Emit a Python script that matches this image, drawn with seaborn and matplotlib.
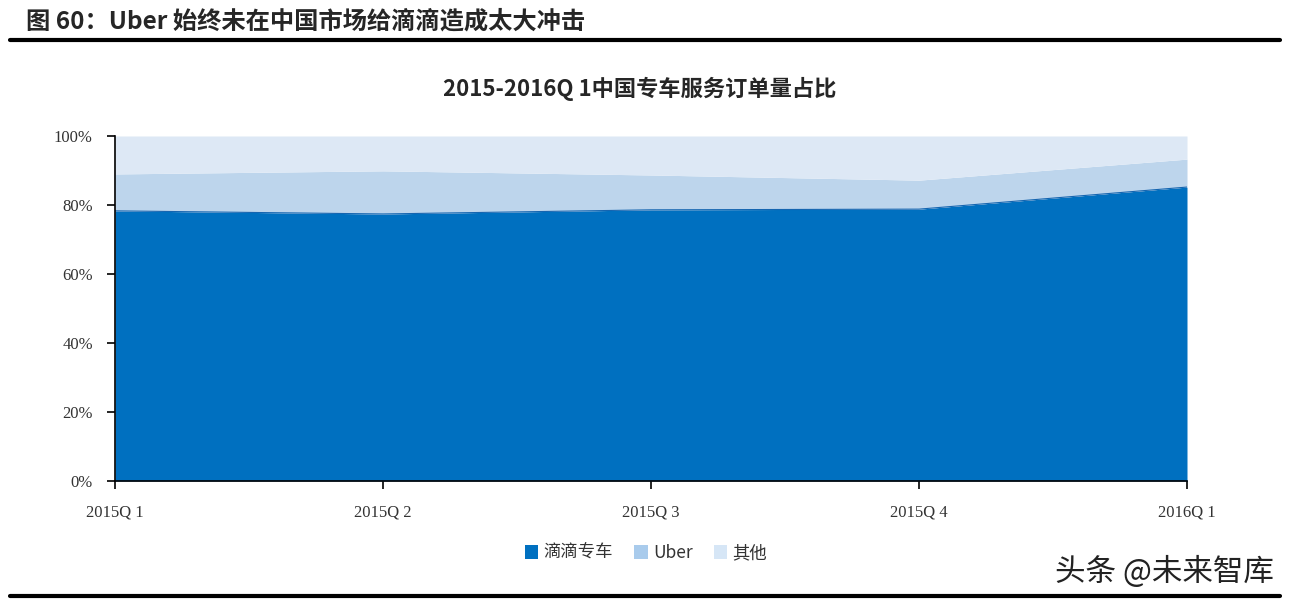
import matplotlib
matplotlib.use("Agg")
import matplotlib.pyplot as plt
import seaborn as sns
import numpy as np
import pandas as pd
from matplotlib.patches import Patch
from matplotlib.lines import Line2D

quarters = ["2015Q 1", "2015Q 2", "2015Q 3", "2015Q 4", "2016Q 1"]
didi = [78.3, 77.4, 78.6, 78.8, 85.2]
uber = [10.7, 12.5, 10.1, 8.4, 8.1]
others = [11.0, 10.1, 11.3, 12.8, 6.7]
series_names = ["滴滴专车", "Uber", "其他"]
yticks = [0, 20, 40, 60, 80, 100]
ytick_labels = ["0%", "20%", "40%", "60%", "80%", "100%"]

colors = ["#0070C0", "#BDD5EC", "#DDE8F5"]
legend_colors = ["#0070C0", "#A9CBEC", "#D6E6F6"]

sns.set_theme(style="white")
plt.rcParams['font.family'] = ['Noto Sans CJK SC', 'DejaVu Sans']

fig = plt.figure(figsize=(12.9, 6.04), dpi=100)
ax = fig.add_axes([115/1290, 1 - 481/604, (1187-115)/1290, (481-136)/604])

x = np.arange(len(quarters))
ax.stackplot(x, didi, uber, others, colors=colors, linewidth=0)
df = pd.DataFrame({"x": x, "top": np.array(didi)})
sns.lineplot(data=df, x="x", y="top", ax=ax, color="#1565B0", linewidth=0.8)

ax.set_xlim(0, len(quarters) - 1)
ax.set_ylim(0, 100)
ax.set_xticks(x)
ax.set_xticklabels(quarters, family=['Liberation Serif'], fontsize=12, color="#333333")
ax.set_yticks(yticks)
ax.set_yticklabels(ytick_labels, family=['Liberation Serif'], fontsize=12, color="#333333")
ax.set_xlabel("")
ax.set_ylabel("")
for s in ["top", "right"]:
    ax.spines[s].set_visible(False)
for s in ["left", "bottom"]:
    ax.spines[s].set_color("black")
    ax.spines[s].set_linewidth(1.2)
ax.tick_params(axis="both", which="both", direction="out", length=6, width=1.2, color="black", left=True, bottom=True)
ax.tick_params(axis="x", pad=11)
ax.tick_params(axis="y", pad=10)

# Figure title and rules
fig.text(26/1290, 1 - 21/604, "图 60：Uber 始终未在中国市场给滴滴造成太大冲击", fontsize=17.5, fontweight="bold",
         ha="left", va="center", family=['Noto Sans CJK SC', 'DejaVu Sans'])
fig.add_artist(Line2D([10/1290, 1280/1290], [1 - 40/604, 1 - 40/604], color="black", linewidth=3))
fig.add_artist(Line2D([10/1290, 1280/1290], [1 - 596/604, 1 - 596/604], color="black", linewidth=3))

fig.text(640/1290, 1 - 89/604, "2015-2016Q 1中国专车服务订单量占比", fontsize=16, fontweight="bold",
         ha="center", va="center")

handles = [Patch(facecolor=c, edgecolor="none") for c in legend_colors]
leg = fig.legend(handles, series_names, loc="center", bbox_to_anchor=(646/1290, 1 - 553/604), ncol=3,
                 frameon=False, fontsize=12.5, handlelength=0.8, handleheight=0.8, handletextpad=0.3,
                 columnspacing=1.2)
for t in leg.get_texts():
    t.set_color("#333333")

fig.text(1274/1290, 1 - 572/604, "头条 @未来智库", fontsize=22, ha="right", va="center", color="#222222")

fig.savefig("out.png", dpi=100, facecolor="white")
